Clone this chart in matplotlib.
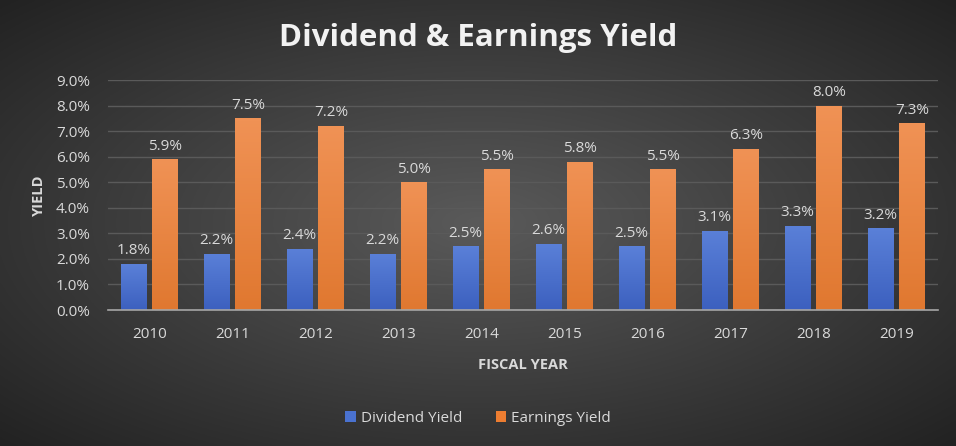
import numpy as np
import matplotlib
matplotlib.use("Agg")
import matplotlib.pyplot as plt
from matplotlib.ticker import FuncFormatter, MultipleLocator
from matplotlib.patches import Patch

years = ["2010", "2011", "2012", "2013", "2014", "2015", "2016", "2017", "2018", "2019"]
dividend_yield = [1.8, 2.2, 2.4, 2.2, 2.5, 2.6, 2.5, 3.1, 3.3, 3.2]
earnings_yield = [5.9, 7.5, 7.2, 5.0, 5.5, 5.8, 5.5, 6.3, 8.0, 7.3]
series_names = ["Dividend Yield", "Earnings Yield"]

plt.rcParams['font.family'] = ['Open Sans', 'DejaVu Sans']
TXT = '#d9d9d9'
FS = 11

fig = plt.figure(figsize=(9.56, 4.46), dpi=100)

# radial gradient background
bg = fig.add_axes([0, 0, 1, 1], zorder=-10)
yy, xx = np.mgrid[-1:1:300j, -1:1:600j]
r = np.sqrt(xx**2 + yy**2) / np.sqrt(2)
c0 = np.array([0x5a, 0x5a, 0x5a]) / 255
c1 = np.array([0x22, 0x22, 0x22]) / 255
img = c0[None, None, :] * (1 - r[..., None]) + c1[None, None, :] * r[..., None]
bg.imshow(img, aspect='auto', extent=[0, 1, 0, 1])
bg.axis('off')

ax = fig.add_axes([108/956, 1 - 310/446, 830/956, 230/446])
ax.set_facecolor('none')
x = np.arange(len(years))
w = 0.31
gap = 0.035

def grad_bars(bars, top, bottom):
    for b in bars:
        bx, by = b.get_x(), b.get_y()
        bw, bh = b.get_width(), b.get_height()
        g = np.linspace(0, 1, 64)[:, None, None]
        col = np.array(top)[None, None, :] * (1 - g) + np.array(bottom)[None, None, :] * g
        im = ax.imshow(col, aspect='auto', extent=[bx, bx + bw, by, by + bh], zorder=3)
        im.set_clip_path(b)
        b.set_facecolor('none')

b1 = ax.bar(x - w/2 - gap, dividend_yield, w, color='#4a72d0', label=series_names[0], zorder=3)
b2 = ax.bar(x + w/2 + gap, earnings_yield, w, color='#ed7d31', label=series_names[1], zorder=3)
grad_bars(b1, (0x5a/255, 0x80/255, 0xd8/255), (0x3c/255, 0x60/255, 0xbf/255))
grad_bars(b2, (0xf0/255, 0x92/255, 0x55/255), (0xe0/255, 0x78/255, 0x30/255))

for bars, vals in ((b1, dividend_yield), (b2, earnings_yield)):
    for b, v in zip(bars, vals):
        ax.annotate(f"{v:.1f}%", (b.get_x() + b.get_width()/2, v), xytext=(0, 4),
                    textcoords='offset points', ha='center', va='bottom',
                    color=TXT, fontsize=FS)

ax.set_xlim(-0.5, len(years) - 0.5)
ax.set_ylim(0, 9)
ax.yaxis.set_major_locator(MultipleLocator(1))
ax.yaxis.set_major_formatter(FuncFormatter(lambda v, p: f"{v:.1f}%"))
ax.set_xticks(x)
ax.set_xticklabels(years)
ax.grid(axis='y', color='#5a5a5a', linewidth=1, zorder=0)
ax.set_axisbelow(True)
for s in ['top', 'right', 'left']:
    ax.spines[s].set_visible(False)
ax.spines['bottom'].set_color('#a6a6a6')
ax.spines['bottom'].set_linewidth(1.2)
ax.spines['bottom'].set_zorder(4)
ax.tick_params(axis='both', length=0, colors=TXT, labelsize=FS)
ax.tick_params(axis='x', pad=12)
ax.tick_params(axis='y', pad=13)

ax.set_ylabel("YIELD", color=TXT, fontsize=10.5, fontweight='bold', labelpad=7)
ax.set_xlabel("FISCAL YEAR", color=TXT, fontsize=10.5, fontweight='bold', labelpad=12)

fig.text(0.5, 1 - 38/446, "Dividend & Earnings Yield", ha='center', va='center',
         color='#f2f2f2', fontsize=22.5, fontweight='bold')

handles = [Patch(facecolor='#4a72d0'), Patch(facecolor='#ed7d31')]
fig.legend(handles, series_names, loc='center', bbox_to_anchor=(0.5, 1 - 418/446),
           ncol=2, frameon=False, fontsize=FS, labelcolor=TXT,
           handlelength=0.7, handleheight=0.7, handletextpad=0.3, columnspacing=2.2)

fig.savefig("out.png", dpi=100)
